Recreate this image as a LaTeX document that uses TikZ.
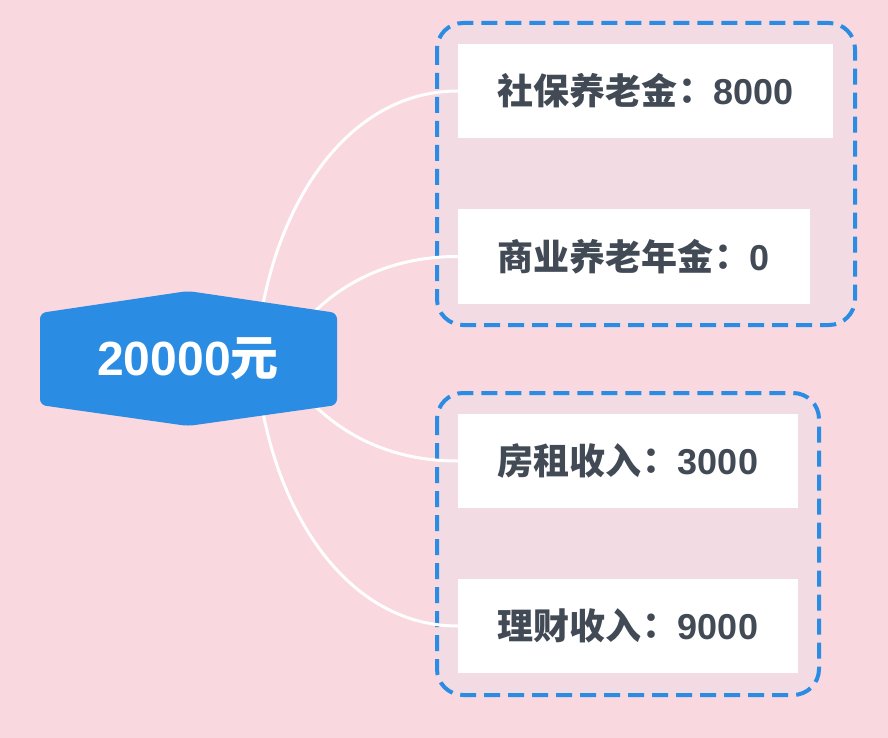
\documentclass[tikz,border=0pt]{standalone}
\usepackage{fontspec}
\setmainfont{Noto Sans CJK SC}
\newfontfamily\latf{Liberation Sans}
\newfontfamily\tcf{Noto Sans CJK TC}
\usetikzlibrary{calc}
\pgfdeclarelayer{bg}
\pgfdeclarelayer{connl}
\pgfdeclarelayer{hexl}
\pgfsetlayers{bg,connl,hexl,main}
\definecolor{bgpink}{RGB}{250,216,224}
\definecolor{grpfill}{RGB}{242,219,227}
\definecolor{mblue}{RGB}{43,140,227}
\definecolor{txtgray}{RGB}{65,74,85}
\newcommand{\colonc}{\hspace{-8pt}{\tcf ：}\hspace{8pt}}
\tikzset{
  item/.style={fill=white, text=txtgray, font=\fontsize{36}{40}\selectfont\bfseries, minimum height=94pt, inner sep=0pt},
  grp/.style={draw=mblue, fill=grpfill, line width=4pt, dash pattern=on 16pt off 8pt, rounded corners=26pt},
  conn/.style={draw=white, line width=3pt},
  center/.style={text=white, font=\fontsize{48}{52}\selectfont\bfseries, minimum width=297pt, minimum height=135pt, inner sep=0pt}
}
\begin{document}
\begin{tikzpicture}[x=1pt,y=-1pt]
\begin{pgfonlayer}{bg}
\fill[bgpink] (0,0) rectangle (888,738);
\path[grp] (437,23) rectangle (855,325);
\path[grp] (437,393) rectangle (819,695);
\end{pgfonlayer}
\useasboundingbox (0,0) rectangle (888,738);

\node[center] (c) at (188,358.5) {{\latf 20000}元};
\node[item, minimum width=375pt] (s1) at (645.5,91) {社保养老金\colonc{\latf 8000}};
\node[item, minimum width=352pt, minimum height=95pt] (s2) at (634,256.5) {商业养老年金\colonc{\latf 0}};
\node[item, minimum width=340pt] (s3) at (628,461) {房租收入\colonc{\latf 3000}};
\node[item, minimum width=340pt] (s4) at (628,626) {理财收入\colonc{\latf 9000}};

\begin{pgfonlayer}{hexl}
\fill[mblue, rounded corners=6pt]
  ($(c.center)+(-148,-45.5)$) -- ($(c.center)+(0,-67.5)$) -- ($(c.center)+(149,-45.5)$)
  -- ($(c.center)+(149,46.5)$) -- ($(c.center)+(0,67.5)$) -- ($(c.center)+(-148,46.5)$) -- cycle;
\end{pgfonlayer}

\begin{pgfonlayer}{connl}
\draw[conn] ($(c.center)+(68,0)$) .. controls +(9,-138) and +(-118,0) .. (s1.west);
\draw[conn] ($(c.center)+(90,0)$) .. controls +(35,-60) and +(-85,0) .. (s2.west);
\draw[conn] ($(c.center)+(90,0)$) .. controls +(35,60) and +(-85,0) .. (s3.west);
\draw[conn] ($(c.center)+(68,0)$) .. controls +(9,138) and +(-118,0) .. (s4.west);
\end{pgfonlayer}
\end{tikzpicture}
\end{document}
